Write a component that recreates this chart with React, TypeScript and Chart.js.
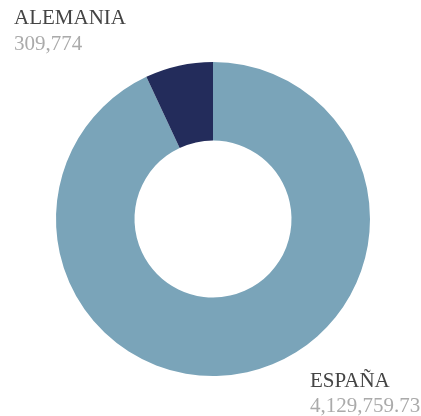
import React, { useEffect, useRef } from "react";
import { Chart, registerables } from "chart.js";

Chart.register(...registerables);

const categories = ["ESPAÑA", "ALEMANIA"];
const values = [4129759.73, 309774];
const valueLabels = ["4,129,759.73", "309,774"];
const colors = ["#7aa4b9", "#232c5b"];

export default function App() {
  const ref = useRef<HTMLCanvasElement | null>(null);

  useEffect(() => {
    if (!ref.current) return;
    const chart = new Chart(ref.current, {
      type: "doughnut",
      data: {
        labels: categories,
        datasets: [
          {
            data: values,
            backgroundColor: colors,
            borderWidth: 0,
          },
        ],
      },
      options: {
        animation: false,
        responsive: false,
        maintainAspectRatio: false,
        cutout: "50%",
        layout: { padding: { top: 62, bottom: 40, left: 56, right: 51 } },
        plugins: {
          legend: { display: false },
          tooltip: { enabled: false },
        },
      },
    });
    return () => chart.destroy();
  }, []);

  const labelStyle: React.CSSProperties = {
    position: "absolute",
    fontFamily: "'Liberation Serif', serif",
    fontSize: 21,
    lineHeight: "21px",
    whiteSpace: "nowrap",
  };

  return (
    <div style={{ position: "fixed", left: 0, top: 0, width: 421, height: 416, background: "#fff" }}>
      <canvas ref={ref} width={421} height={416} style={{ position: "absolute", left: 0, top: 0 }} />
      <div style={{ ...labelStyle, left: 14, top: 6.5, color: "#444" }}>{categories[1]}</div>
      <div style={{ ...labelStyle, left: 14, top: 32.5, color: "#aaa" }}>{valueLabels[1]}</div>
      <div style={{ ...labelStyle, left: 310, top: 369.5, color: "#444" }}>{categories[0]}</div>
      <div style={{ ...labelStyle, left: 310, top: 394.5, color: "#aaa" }}>{valueLabels[0]}</div>
    </div>
  );
}
